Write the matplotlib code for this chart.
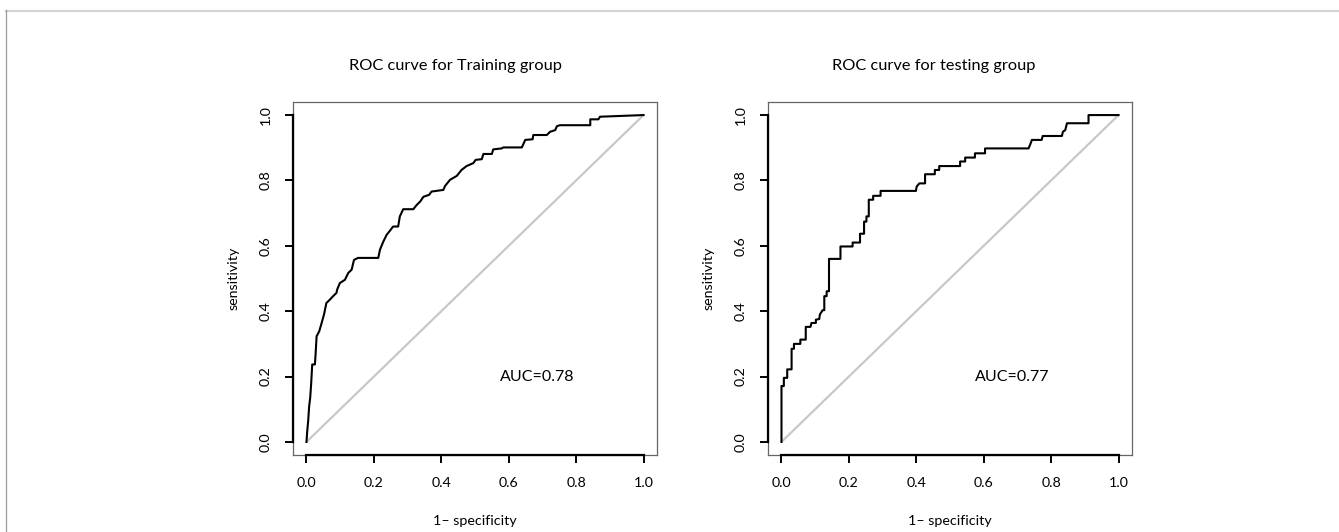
import numpy as np
import matplotlib
matplotlib.use("Agg")
import matplotlib.pyplot as plt
from matplotlib.lines import Line2D

plt.rcParams["font.family"] = ["Lato", "DejaVu Sans"]

# ROC points (1 - specificity, sensitivity)
train_fpr = [0.0, 0.002, 0.005, 0.008, 0.011, 0.014, 0.017, 0.025, 0.027, 0.030,
             0.038, 0.045, 0.052, 0.059, 0.064, 0.069, 0.079, 0.089, 0.091, 0.099,
             0.114, 0.124, 0.134, 0.141, 0.153, 0.213, 0.218, 0.228, 0.238, 0.246,
             0.257, 0.272, 0.277, 0.287, 0.317, 0.327, 0.337, 0.347, 0.364, 0.371,
             0.406, 0.411, 0.426, 0.446, 0.460, 0.475, 0.495, 0.502, 0.520, 0.525,
             0.550, 0.554, 0.579, 0.584, 0.639, 0.649, 0.671, 0.673, 0.713, 0.723,
             0.738, 0.743, 0.752, 0.842, 0.842, 0.866, 0.871, 1.0]
train_tpr = [0.0, 0.030, 0.064, 0.110, 0.135, 0.180, 0.237, 0.237, 0.268, 0.323,
             0.339, 0.364, 0.390, 0.425, 0.430, 0.435, 0.446, 0.456, 0.466, 0.486,
             0.496, 0.517, 0.527, 0.557, 0.563, 0.563, 0.588, 0.613, 0.634, 0.644,
             0.659, 0.659, 0.690, 0.712, 0.712, 0.725, 0.735, 0.750, 0.756, 0.766,
             0.771, 0.783, 0.802, 0.814, 0.832, 0.844, 0.853, 0.863, 0.865, 0.881,
             0.881, 0.895, 0.898, 0.901, 0.901, 0.924, 0.926, 0.939, 0.939, 0.949,
             0.954, 0.966, 0.969, 0.969, 0.987, 0.987, 0.995, 1.0]

test_fpr = [0.0, 0.0, 0.007, 0.007, 0.017, 0.017, 0.030, 0.030, 0.037, 0.037,
            0.056, 0.056, 0.072, 0.072, 0.086, 0.089, 0.102, 0.102, 0.112, 0.114,
            0.122, 0.127, 0.127, 0.134, 0.134, 0.141, 0.141, 0.175, 0.175, 0.211,
            0.211, 0.233, 0.233, 0.245, 0.245, 0.252, 0.252, 0.259, 0.259, 0.272,
            0.272, 0.294, 0.294, 0.399, 0.401, 0.409, 0.426, 0.426, 0.455, 0.455,
            0.468, 0.468, 0.530, 0.530, 0.545, 0.545, 0.574, 0.574, 0.604, 0.604,
            0.733, 0.738, 0.743, 0.772, 0.775, 0.832, 0.835, 0.842, 0.847, 0.911,
            0.911, 1.0]
test_tpr = [0.0, 0.171, 0.171, 0.196, 0.196, 0.222, 0.222, 0.285, 0.285, 0.300,
            0.300, 0.313, 0.313, 0.352, 0.352, 0.364, 0.364, 0.374, 0.376, 0.390,
            0.403, 0.403, 0.446, 0.446, 0.461, 0.461, 0.560, 0.560, 0.598, 0.598,
            0.610, 0.610, 0.637, 0.637, 0.674, 0.674, 0.690, 0.690, 0.741, 0.741,
            0.753, 0.753, 0.768, 0.768, 0.781, 0.791, 0.791, 0.819, 0.819, 0.832,
            0.832, 0.844, 0.844, 0.858, 0.858, 0.870, 0.870, 0.883, 0.883, 0.898,
            0.898, 0.910, 0.924, 0.924, 0.936, 0.936, 0.949, 0.954, 0.975, 0.975,
            1.0, 1.0]

titles = ["ROC curve for Training group", "ROC curve for testing group"]
auc_labels = ["AUC=0.78", "AUC=0.77"]
ticks = [0.0, 0.2, 0.4, 0.6, 0.8, 1.0]

fig = plt.figure(figsize=(13.39, 5.32), dpi=100)

# thin page border (top and left)
fig.add_artist(Line2D([6 / 1339, 1], [1 - 10.5 / 532, 1 - 10.5 / 532],
                      color="#d4d4d4", lw=1.6, transform=fig.transFigure))
fig.add_artist(Line2D([6 / 1339, 6 / 1339], [0, 1 - 10 / 532],
                      color="#9a9a9a", lw=0.9, transform=fig.transFigure))

lefts = [293 / 1339, 768 / 1339]
title_x = [456 / 1339, 934 / 1339]
curves = [(train_fpr, train_tpr), (test_fpr, test_tpr)]

for i in range(2):
    ax = fig.add_axes([lefts[i], 1 - 455 / 532, 364 / 1339, 353 / 532])
    fpr, tpr = curves[i]
    ax.plot([0, 1], [0, 1], color="#c8c8c8", lw=1.6, zorder=1)
    ax.plot(fpr, tpr, color="black", lw=1.5, zorder=2)
    ax.set_xlim(-0.04, 1.04)
    ax.set_ylim(-0.04, 1.04)

    for s in ax.spines.values():
        s.set_color("#666666")
        s.set_linewidth(0.9)
    # R style axis lines from 0 to 1
    ax.plot([0, 1], [-0.04, -0.04], color="black", lw=1.6, clip_on=False, zorder=3)
    ax.plot([-0.04, -0.04], [0, 1], color="black", lw=1.6, clip_on=False, zorder=3)

    ax.set_xticks(ticks)
    ax.set_yticks(ticks)
    ax.set_xticklabels(["%.1f" % t for t in ticks])
    ax.set_yticklabels(["%.1f" % t for t in ticks], rotation=90, va="center")
    ax.tick_params(axis="both", direction="out", length=5.5, width=1.4,
                   color="black", labelsize=10.3, pad=10)

    ax.set_xlabel("1\u2013 specificity", fontsize=10.3, labelpad=19)
    ax.set_ylabel("sensitivity", fontsize=10.3, labelpad=14)
    ax.text(0.684, 0.2, auc_labels[i], fontsize=11.5, ha="center", va="center")
    fig.text(title_x[i], 1 - 66 / 532, titles[i], fontsize=11.8, ha="center", va="center")

plt.savefig("out.png", dpi=100)
